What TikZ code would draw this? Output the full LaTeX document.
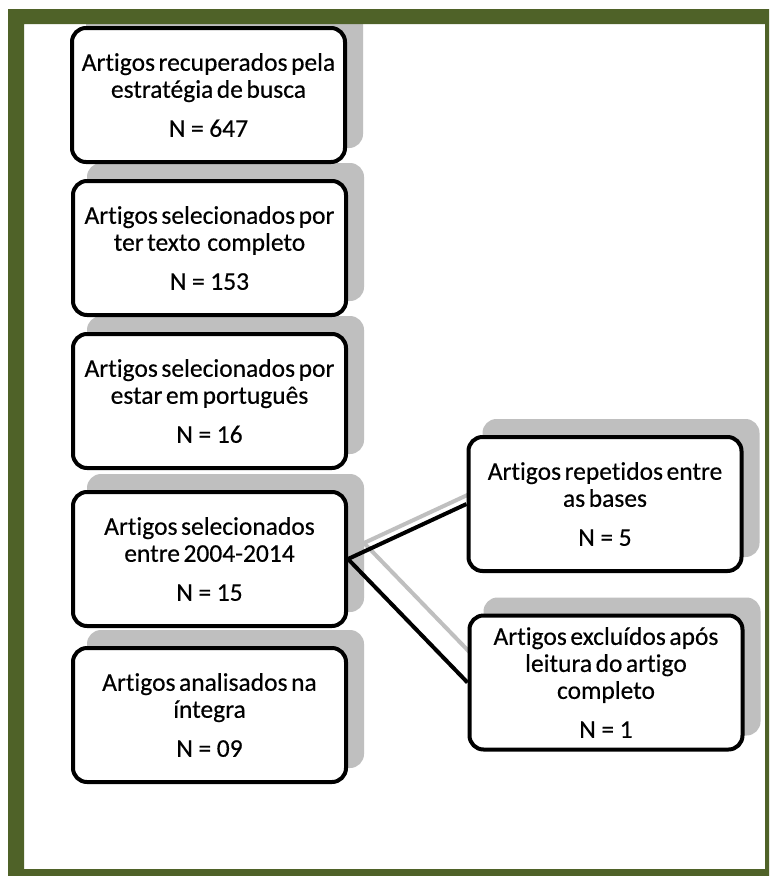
\documentclass[tikz,border=0pt]{standalone}
\usepackage{fontspec}
\setmainfont[RawFeature={-liga;-clig}, FakeBold=0.4]{Carlito}
\usetikzlibrary{backgrounds}
\definecolor{framegreen}{RGB}{79,98,40}
\definecolor{shadowgray}{RGB}{191,191,191}
\newcommand{\boxfont}{\fontsize{25.5}{27}\selectfont\spaceskip=0.14em plus 0.05em\relax}
\newcommand{\Nval}[1]{N\hspace{0.22em}=\hspace{0.22em}#1}
\tikzset{
  box/.style={draw=black, line width=4pt, rounded corners=14pt, fill=white,
    minimum width=273pt, minimum height=134pt, align=center, inner sep=0pt,
    font=\boxfont},
  link/.style={line width=4pt, draw=black},
  shadowlink/.style={line width=4pt, draw=shadowgray},
}
\newcommand{\boxshadow}[1]{%
  \fill[shadowgray, rounded corners=14pt] ([shift={(16pt,16pt)}]#1.south west) rectangle ([shift={(16pt,16pt)}]#1.north east);}
\begin{document}
\begin{tikzpicture}[x=1pt,y=-1pt]
\useasboundingbox (0,0) rectangle (769,876);
% frame
\fill[framegreen, even odd rule] (8,9) rectangle (769,876) (24,24) rectangle (765,869);
% boxes
\node[box] (b1) at (208.5,95) {Artigos recuperados pela\\estratégia de busca\\[12pt]\Nval{647}};
\node[box] (b2) at (209.5,248) {Artigos selecionados por\\ter texto\hspace{0.12em} completo\\[12pt]\Nval{153}};
\node[box] (b3) at (209.5,401) {Artigos selecionados por\\estar em português\\[12pt]\Nval{16}};
\node[box] (b4) at (209.5,559) {Artigos selecionados\\entre 2004-2014\\[12pt]\Nval{15}};
\node[box] (b5) at (209.5,715) {Artigos analisados na\\íntegra\\[12pt]\Nval{09}};
\node[box] (r1) at (605,504) {Artigos repetidos entre\\as bases\\[12pt]\Nval{5}};
\node[box] (r2) at (606,682.5) {Artigos excluídos após\\leitura do artigo\\completo\\[12pt]\Nval{1}};
% connectors
\draw[link] (b4.east) -- (r1.west);
\draw[link] (b4.east) -- (r2.west);
\begin{scope}[on background layer]
  \fill[white] (0,0) rectangle (769,876);
  \boxshadow{b1}\boxshadow{b2}\boxshadow{b3}\boxshadow{b4}\boxshadow{b5}
  \boxshadow{r1}\boxshadow{r2}
  \draw[shadowlink] ([shift={(16pt,16pt)}]b4.east) -- ([shift={(16pt,16pt)}]r1.west);
  \draw[shadowlink] ([shift={(16pt,16pt)}]b4.east) -- ([shift={(16pt,16pt)}]r2.west);
\end{scope}
\end{tikzpicture}
\end{document}
